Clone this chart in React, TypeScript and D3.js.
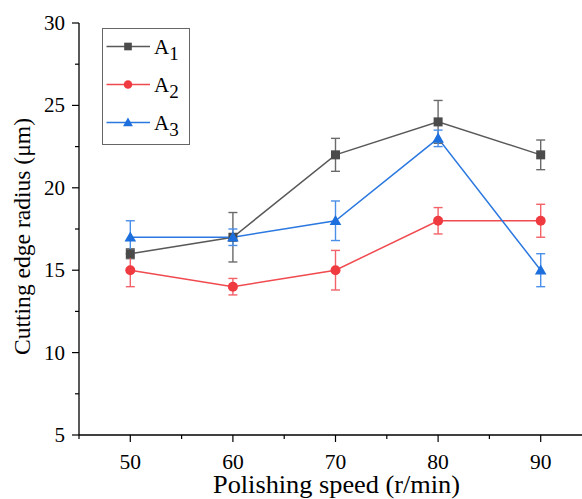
import React from "react";
import * as d3 from "d3";

const speeds = [50, 60, 70, 80, 90];
const a1Values = [16, 17, 22, 24, 22];
const a1Errors = [0.3, 1.5, 1.0, 1.3, 0.9];
const a2Values = [15, 14, 15, 18, 18];
const a2Errors = [1.0, 0.5, 1.2, 0.8, 1.0];
const a3Values = [17, 17, 18, 23, 15];
const a3Errors = [1.0, 0.5, 1.2, 0.5, 1.0];
const xTicks = [50, 60, 70, 80, 90];
const xMinorTicks = [45, 55, 65, 75, 85];
const yTicks = [5, 10, 15, 20, 25, 30];
const yMinorTicks = [7.5, 12.5, 17.5, 22.5, 27.5];

const series = [
  { name: "A", sub: "1", values: a1Values, errors: a1Errors, color: "#4b4b4b", line: "#595959", err: "#6a6a6a", shape: "square" },
  { name: "A", sub: "2", values: a2Values, errors: a2Errors, color: "#ef3a40", line: "#f04a4f", err: "#f26268", shape: "circle" },
  { name: "A", sub: "3", values: a3Values, errors: a3Errors, color: "#1c6fdc", line: "#2a78e0", err: "#4a8fe8", shape: "triangle" },
];

const FONT = "'Liberation Serif', 'Times New Roman', serif";

function Marker({ shape, x, y, color, k = 1 }: { shape: string; x: number; y: number; color: string; k?: number }) {
  if (shape === "square") return <rect x={x - 4.5 * k} y={y - 4.5 * k} width={9 * k} height={9 * k} fill={color} />;
  if (shape === "circle") return <circle cx={x} cy={y} r={5 * k} fill={color} />;
  const s = 5.8 * k;
  return <path d={`M${x},${y - s}L${x + s},${y + s * 0.75}L${x - s},${y + s * 0.75}Z`} fill={color} />;
}

export default function App() {
  const W = 582, H = 499;
  const x = d3.scaleLinear().domain([45, 95]).range([79, 592]);
  const y = d3.scaleLinear().domain([5, 30]).range([435, 23]);
  const line = d3.line<number>().x((_, i) => x(speeds[i])).y((v) => y(v));

  return (
    <svg width={W} height={H} style={{ position: "absolute", left: 0, top: 0, background: "#fff" }} fontFamily={FONT}>
      {/* axes */}
      <line x1={79} x2={W} y1={y(5)} y2={y(5)} stroke="#000" strokeWidth={1.3} />
      <line x1={79} x2={79} y1={y(30)} y2={y(5)} stroke="#000" strokeWidth={1.3} />
      {xTicks.map((t) => (
        <g key={"xt" + t}>
          <line x1={x(t)} x2={x(t)} y1={y(5)} y2={y(5) + 7} stroke="#000" strokeWidth={1.2} />
          <text x={x(t)} y={469} textAnchor="middle" fontSize={21.5}>{t}</text>
        </g>
      ))}
      {xMinorTicks.map((t) => (
        <line key={"xm" + t} x1={x(t)} x2={x(t)} y1={y(5)} y2={y(5) + 4} stroke="#000" strokeWidth={1.2} />
      ))}
      {yTicks.map((t) => (
        <g key={"yt" + t}>
          <line x1={72} x2={79} y1={y(t)} y2={y(t)} stroke="#000" strokeWidth={1.2} />
          <text x={65} y={y(t) + 7} textAnchor="end" fontSize={21}>{t}</text>
        </g>
      ))}
      {yMinorTicks.map((t) => (
        <line key={"ym" + t} x1={75} x2={79} y1={y(t)} y2={y(t)} stroke="#000" strokeWidth={1.2} />
      ))}
      <text x={213} y={493} fontSize={25} textLength={247} lengthAdjust="spacingAndGlyphs">Polishing speed (r/min)</text>
      <text transform={`translate(30,355) rotate(-90)`} fontSize={24} textLength={237} lengthAdjust="spacingAndGlyphs">Cutting edge radius (μm)</text>

      {/* lines */}
      {series.map((s) => (
        <path key={"l" + s.sub} d={line(s.values) || ""} fill="none" stroke={s.line} strokeWidth={1.5} />
      ))}
      {/* error bars */}
      {series.map((s) =>
        s.values.map((v, i) => {
          const cx = x(speeds[i]);
          const top = y(v + s.errors[i]);
          const bot = y(v - s.errors[i]);
          return (
            <g key={"e" + s.sub + i} stroke={s.err} strokeWidth={1.4}>
              <line x1={cx} x2={cx} y1={top} y2={bot} />
              <line x1={cx - 4.5} x2={cx + 4.5} y1={top} y2={top} />
              <line x1={cx - 4.5} x2={cx + 4.5} y1={bot} y2={bot} />
            </g>
          );
        })
      )}
      {/* markers */}
      {series.map((s) =>
        s.values.map((v, i) => (
          <Marker key={"m" + s.sub + i} shape={s.shape} x={x(speeds[i])} y={y(v)} color={s.color} />
        ))
      )}

      {/* legend */}
      <rect x={102.5} y={28.5} width={87} height={116} fill="#fff" stroke="#666" strokeWidth={1} />
      {series.map((s, i) => {
        const ly = 46.5 + i * 38;
        return (
          <g key={"lg" + s.sub}>
            <line x1={106.5} x2={150} y1={ly} y2={ly} stroke={s.line} strokeWidth={1.5} />
            <Marker shape={s.shape} x={128} y={ly} color={s.color} k={0.85} />
            <text x={154} y={ly + 7} fontSize={21}>
              {s.name}
              <tspan fontSize={19} dy={6}>{s.sub}</tspan>
            </text>
          </g>
        );
      })}
    </svg>
  );
}
